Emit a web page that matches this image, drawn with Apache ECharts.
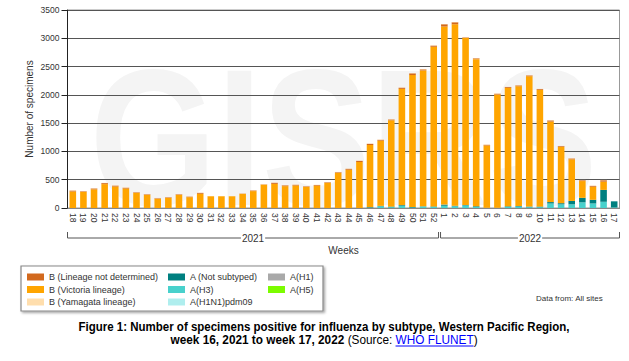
<!DOCTYPE html>
<html><head><meta charset="utf-8">
<script src="https://cdn.jsdelivr.net/npm/echarts@6/dist/echarts.min.js"></script>
<style>html,body{margin:0;padding:0;background:#fff}#c{width:629px;height:361px}</style>
</head><body><div id="c"></div>
<script>
// ---------- DATA ----------
const weeks = ['18','19','20','21','22','23','24','25','26','27','28','29','30','31','32','33','34','35','36','37','38','39','40','41','42','43','44','45','46','47','48','49','50','51','52',
               '1','2','3','4','5','6','7','8','9','10','11','12','13','14','15','16','17'];
const yearLabels = ['2021','2022'];
const yearFirstWeekIndex = [0, 35];
const yTicks = [0,500,1000,1500,2000,2500,3000,3500];

const bVictoria = [292,283,330,422,380,345,265,230,163,177,230,191,252,209,209,209,249,298,413,427,386,398,371,395,443,621,677,813,1099,1152,1525,2054,2332,2401,2822,
                   3148,3208,2952,2599,1102,2002,2093,2117,2304,2062,1423,993,735,296,231,146,0];
const bLineageND = [15,12,15,18,15,15,12,12,10,12,12,10,15,0,0,0,5,12,5,18,15,12,12,12,12,12,15,20,20,15,15,20,30,20,20,
                    40,35,10,15,12,15,15,15,15,15,20,15,15,15,15,25,0];
const bYamagata = [5,5,5,5,5,5,5,5,5,5,5,5,5,3,3,3,5,5,5,5,5,5,5,5,5,5,5,5,5,5,5,5,5,5,5,
                   5,5,5,5,5,5,5,5,5,5,5,5,5,5,5,5,0];
const aH3 = [0,0,0,0,0,0,0,0,0,0,0,0,0,0,0,0,0,0,0,0,0,0,0,0,0,0,0,0,5,30,15,40,8,25,20,
             40,30,45,20,3,3,20,25,15,15,80,65,65,100,80,110,10];
const aNotSubtyped = [0,0,0,0,0,0,0,0,0,0,0,0,0,0,0,0,0,0,0,0,0,0,0,0,0,0,0,0,10,8,10,12,10,5,8,
                      20,10,10,12,0,0,10,10,10,10,25,20,60,80,65,210,108];
const aH1N1pdm09 = [0,0,0,0,0,0,0,0,0,0,0,0,0,0,0,0,0,0,0,0,0,0,0,0,0,0,0,0,0,0,0,0,0,0,0,
                    0,0,0,0,0,0,0,0,0,0,0,0,0,0,0,0,0];
const aH1 = [0,0,0,0,0,0,0,0,0,0,0,0,0,0,0,0,0,0,0,0,0,0,0,0,0,0,0,0,0,0,0,0,0,0,0,
             0,0,0,0,0,0,0,0,0,0,0,0,0,0,0,0,0];
const aH5 = [0,0,0,0,0,0,0,0,0,0,0,0,0,0,0,0,0,0,0,0,0,0,0,0,0,0,0,0,0,0,0,0,0,0,0,
             0,0,0,0,0,0,0,0,0,0,0,0,0,0,0,0,0];

// ---------- CHART ----------
const FF = '"Liberation Sans", Arial, sans-serif';
const mctx = document.createElement('canvas').getContext('2d');
function tw(font, s){ mctx.font = font; return mctx.measureText(s).width; }

const seriesDefs = [
  {name:'A(H1)', data:aH1, color:'#A9A9A9'},
  {name:'A(H1N1)pdm09', data:aH1N1pdm09, color:'#AFEEEE'},
  {name:'A(H3)', data:aH3, color:'#48D1CC'},
  {name:'A(H5)', data:aH5, color:'#7CFC00'},
  {name:'A (Not subtyped)', data:aNotSubtyped, color:'#008080'},
  {name:'B (Victoria lineage)', data:bVictoria, color:'#FFA500'},
  {name:'B (Lineage not determined)', data:bLineageND, color:'#D2691E'},
  {name:'B (Yamagata lineage)', data:bYamagata, color:'#FFDEAD'}
];
const legendCols = [
  ['B (Lineage not determined)','B (Victoria lineage)','B (Yamagata lineage)'],
  ['A (Not subtyped)','A(H3)','A(H1N1)pdm09'],
  ['A(H1)','A(H5)']
];
const legendLefts = [27,168,268];

const chart = echarts.init(document.getElementById('c'), null, {renderer:'svg', width:629, height:361});
chart.setOption({
  animation:false,
  backgroundColor:'#fff',
  textStyle:{fontFamily:FF},
  grid:{left:67.5, right:9.5, top:10, bottom:153, show:true, borderColor:'#999', borderWidth:1},
  xAxis:{
    type:'category', data:weeks,
    name:'Weeks', nameLocation:'middle', nameGap:37,
    nameTextStyle:{fontSize:10, color:'#333', fontFamily:FF},
    axisLine:{lineStyle:{color:'#888'}},
    axisTick:{alignWithLabel:true, length:4, lineStyle:{color:'#777'}},
    axisLabel:{interval:0, rotate:-90, fontSize:8.5, color:'#333', margin:5, fontFamily:FF}
  },
  yAxis:{
    type:'value', min:yTicks[0], max:yTicks[yTicks.length-1], interval:500,
    axisLine:{show:true, lineStyle:{color:'#222'}},
    axisTick:{show:true, length:6, lineStyle:{color:'#222'}},
    axisLabel:{fontSize:8.5, color:'#333', margin:8, fontFamily:FF, formatter:v=>String(v)},
    splitLine:{lineStyle:{color:'#555', width:1}}
  },
  legend: legendCols.map((d,i)=>({
    data:d, orient:'vertical', left:legendLefts[i], top:272, padding:0,
    itemWidth:17, itemHeight:7, itemGap:2.5, icon:'rect', selectedMode:false,
    textStyle:{fontSize:9, color:'#333', fontFamily:FF, lineHeight:10}
  })),
  series: seriesDefs.map(s=>({
    name:s.name, type:'bar', stack:'all', data:s.data, barWidth:'62%',
    itemStyle:{color:s.color}, emphasis:{disabled:true}
  }))
});

// ---------- DECORATIONS ----------
const xAt = i => chart.convertToPixel({xAxisIndex:0}, i);
const band = xAt(1) - xAt(0);
const y0 = chart.convertToPixel({yAxisIndex:0}, 0);
const yTop = chart.convertToPixel({yAxisIndex:0}, yTicks[yTicks.length-1]);
const bracketY = y0 + 30;
const g = [];

// watermark
const wmFont = 'bold 195px ' + FF;
const wmScale = 507 / tw(wmFont, 'GISRS');
g.push({type:'text', x:343.5, y:137, scaleX:wmScale, z:-5, silent:true,
  style:{text:'GISRS', font:wmFont, fill:'#f4f4f4', align:'center', verticalAlign:'middle', lineHeight:150}});

// y axis title
g.push({type:'text', silent:true, x:29.5, y:(y0+yTop)/2, rotation:Math.PI/2,
  style:{text:'Number of specimens', font:'10px '+FF, fill:'#333', align:'center', verticalAlign:'middle'}});

// year brackets
yearLabels.forEach((lab, k) => {
  const first = yearFirstWeekIndex[k];
  const last = (k+1 < yearFirstWeekIndex.length ? yearFirstWeekIndex[k+1] : weeks.length) - 1;
  const x1 = xAt(first) - band/2 + (k>0 ? 1.5 : 0);
  const x2 = xAt(last) + band/2 - (k<yearLabels.length-1 ? 0.5 : 0);
  g.push({type:'polyline', silent:true, shape:{points:[[x1,bracketY-6],[x1,bracketY],[x2,bracketY],[x2,bracketY-6]]},
    style:{stroke:'#555', lineWidth:1, fill:null}});
  g.push({type:'text', silent:true, x:(x1+x2)/2, y:bracketY,
    style:{text:lab, font:'10px '+FF, fill:'#333', align:'center', verticalAlign:'middle',
      backgroundColor:'#fff', padding:[0,1]}});
});

// legend box
g.push({type:'rect', silent:true, z:-1, shape:{x:21, y:266, width:302, height:45},
  style:{fill:'#fff', stroke:'#888', lineWidth:1.2, shadowBlur:2, shadowOffsetX:1.5, shadowOffsetY:1.5, shadowColor:'rgba(0,0,0,0.35)'}});

// data source note
g.push({type:'text', silent:true, x:536, y:298.5,
  style:{text:'Data from: All sites', font:'8px '+FF, fill:'#333', align:'left', verticalAlign:'middle'}});

// caption
const cap1 = 'Figure 1: Number of specimens positive for influenza by subtype, Western Pacific Region,';
const fB = 'bold 12px ' + FF, fN = '12px ' + FF;
const s1 = 491 / tw(fB, cap1);
g.push({type:'text', silent:true, x:324, y:326.5, scaleX:s1,
  style:{text:cap1, font:fB, fill:'#000', align:'center', verticalAlign:'middle'}});
const p1 = 'week 16, 2021 to week 17, 2022 ', p2 = '(Source: ', p3 = 'WHO FLUNET', p4 = ')';
const w1 = tw(fB,p1), w2 = tw(fN,p2), w3 = tw(fN,p3), w4 = tw(fN,p4);
const wt = w1+w2+w3+w4;
const s2 = 307 / wt;
const cx2 = 324;
const left2 = cx2 - wt*s2/2;
g.push({type:'text', silent:true, x:cx2, y:340, scaleX:s2,
  style:{text:'{b|'+p1+'}{n|'+p2+'}{l|'+p3+'}{n|'+p4+'}', align:'center', verticalAlign:'middle',
    rich:{b:{font:fB, fill:'#000'}, n:{font:fN, fill:'#000'}, l:{font:fN, fill:'#0000FF'}}}});
const ux1 = left2 + (w1+w2)*s2, ux2 = ux1 + w3*s2;
g.push({type:'line', silent:true, shape:{x1:ux1, y1:346, x2:ux2, y2:346}, style:{stroke:'#0000FF', lineWidth:1}});

chart.setOption({graphic:g});
</script>
</body></html>
